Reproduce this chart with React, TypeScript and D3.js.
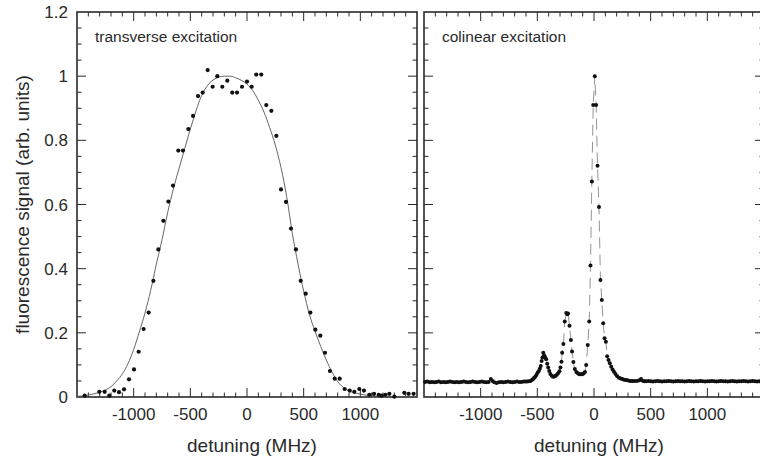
import * as d3 from 'd3';

// transverse excitation: measured points [detuning MHz, signal]
const transverseX = [
  -1432, -1303, -1256, -1215, -1171, -1129, -1085, -1041, -997, -956, -912, -868, -826, -782,
  -738, -694, -653, -606, -565, -518, -476, -432, -391, -347, -303, -262, -218, -174, -130,
  -88, -44, 0, 41, 82, 126, 170, 215, 259, 300, 344, 388, 432, 474, 518, 559, 603, 647, 688,
  732, 774, 818, 862, 906, 947, 991, 1032, 1079, 1121, 1162, 1188, 1221, 1256, 1300, 1388,
  1426, 1470,
];
const transverseY = [
  0.004, 0.016, 0.016, 0.004, 0.02, 0.015, 0.024, 0.055, 0.086, 0.141, 0.212, 0.263, 0.362, 0.46,
  0.549, 0.609, 0.659, 0.768, 0.768, 0.835, 0.876, 0.938, 0.949, 1.019, 0.967, 1.0, 0.967, 0.986, 0.949,
  0.949, 0.967, 0.983, 0.967, 1.005, 1.005, 0.91, 0.892, 0.814, 0.647, 0.608, 0.525, 0.46, 0.362, 0.322,
  0.263, 0.21, 0.191, 0.138, 0.081, 0.057, 0.057, 0.025, 0.02, 0.016, 0.025, 0.02, 0.007, 0.01, 0.007,
  0.004, 0.007, 0.01, 0.001, 0.013, 0.01, 0.01,
];

// fitted profile
const fitX = [
  -1500, -1400, -1300, -1250, -1200, -1150, -1100, -1050, -1000, -950, -900, -850, -800, -750,
  -700, -650, -600, -550, -500, -450, -400, -350, -300, -250, -200, -150, -100, -50, 0, 50, 100,
  150, 200, 250, 300, 350, 400, 450, 500, 550, 600, 650, 700, 750, 800, 850, 900, 1000, 1100,
  1200, 1350, 1500,
];
const fitY = [
  0.002, 0.006, 0.015, 0.022, 0.032, 0.05, 0.072, 0.104, 0.148, 0.203, 0.262, 0.332, 0.414, 0.49,
  0.575, 0.648, 0.712, 0.774, 0.835, 0.892, 0.94, 0.97, 0.988, 0.997, 1.0, 1.0, 0.995, 0.987, 0.975,
  0.955, 0.925, 0.888, 0.84, 0.785, 0.715, 0.625, 0.51, 0.415, 0.33, 0.258, 0.205, 0.158, 0.115,
  0.078, 0.048, 0.03, 0.019, 0.009, 0.004, 0.002, 0.001, 0.001,
];

// colinear excitation: measured points
const colinearX = [
  -1490, -1470, -1450, -1430, -1410, -1390, -1370, -1350, -1330, -1310, -1290, -1270, -1250, -1230,
  -1210, -1190, -1170, -1150, -1130, -1110, -1090, -1070, -1050, -1030, -1010, -990, -970, -950,
  -930, -910, -895, -880, -860, -840, -820, -800, -780, -760, -740, -720, -700, -680, -660, -640,
  -620, -605, -590, -575, -560, -548, -537, -527, -517, -507, -497, -487, -478, -470, -462, -455,
  -448, -440, -431, -422, -413, -404, -395, -385, -373, -361, -349, -338, -326, -315, -305, -296,
  -287, -281, -270, -258, -245, -237, -229, -216, -204, -194, -182, -169, -156, -143, -130, -117,
  -104, -92, -80, -69, -55, -42, -31, -19, -7, 7, 19, 31, 44, 57, 69, 81, 93, 105, 116, 128, 140,
  152, 164, 176, 190, 205, 220, 235, 250, 265, 280, 295, 310, 325, 340, 360, 380, 400, 415, 430,
  445, 460, 480, 500, 520, 540, 560, 580, 600, 620, 640, 660, 680, 700, 720, 740, 760, 780, 800,
  820, 840, 860, 880, 900, 920, 940, 960, 980, 1000, 1020, 1040, 1060, 1080, 1100, 1120, 1140,
  1160, 1180, 1200, 1220, 1240, 1260, 1280, 1300, 1320, 1340, 1360, 1380, 1400, 1420, 1440, 1460,
  1480, 1500,
];
const colinearY = [
  0.047, 0.048, 0.046, 0.047, 0.046, 0.047, 0.048, 0.046, 0.047, 0.046, 0.047, 0.048, 0.047, 0.046,
  0.047, 0.046, 0.047, 0.048, 0.047, 0.046, 0.047, 0.048, 0.047, 0.046, 0.047, 0.048, 0.047, 0.046,
  0.047, 0.056, 0.05, 0.046, 0.044, 0.046, 0.047, 0.046, 0.047, 0.048, 0.047, 0.046, 0.047, 0.048,
  0.047, 0.047, 0.048, 0.048, 0.048, 0.049, 0.05, 0.053, 0.056, 0.06, 0.064, 0.069, 0.076, 0.081,
  0.088, 0.097, 0.112, 0.123, 0.138, 0.13, 0.124, 0.118, 0.104, 0.092, 0.081, 0.072, 0.066, 0.063,
  0.064, 0.066, 0.07, 0.075, 0.08, 0.092, 0.11, 0.138, 0.165, 0.235, 0.262, 0.258, 0.26, 0.222,
  0.178, 0.142, 0.109, 0.087, 0.078, 0.074, 0.071, 0.071, 0.071, 0.073, 0.078, 0.1, 0.162, 0.235,
  0.41, 0.672, 0.91, 1.0, 0.91, 0.721, 0.592, 0.365, 0.302, 0.23, 0.183, 0.172, 0.127, 0.115, 0.105,
  0.094, 0.086, 0.079, 0.072, 0.065, 0.06, 0.058, 0.056, 0.054, 0.053, 0.052, 0.051, 0.05, 0.05,
  0.05, 0.05, 0.052, 0.056, 0.051, 0.049, 0.049, 0.05, 0.049, 0.048, 0.049, 0.05, 0.049, 0.048,
  0.049, 0.049, 0.05, 0.049, 0.048, 0.049, 0.05, 0.049, 0.049, 0.048, 0.049, 0.05, 0.049, 0.048,
  0.049, 0.049, 0.05, 0.049, 0.048, 0.049, 0.049, 0.05, 0.049, 0.048, 0.049, 0.05, 0.049, 0.049,
  0.048, 0.049, 0.05, 0.049, 0.048, 0.049, 0.049, 0.05, 0.049, 0.048, 0.049, 0.05, 0.049, 0.048,
  0.049, 0.049,
];

const xMajor = [-1000, -500, 0, 500, 1000];
const yMajor = [0, 0.2, 0.4, 0.6, 0.8, 1, 1.2];
const yLabels = ['0', '0.2', '0.4', '0.6', '0.8', '1', '1.2'];

const W = 760;
const H = 462;
const top = 12;
const bottom = 397;
const panelW = 340;
const FONT = '"Liberation Sans", Arial, Helvetica, sans-serif';
const INK = '#2a2a2a';

const yScale = d3.scaleLinear().domain([0, 1.2]).range([bottom, top]);

function Panel({ left, label, showY, children }) {
  const x = d3.scaleLinear().domain([-1500, 1500]).range([left, left + panelW]);
  const right = left + panelW;
  const xMinor = d3.range(-1400, 1500, 100);
  const yMinor = d3.range(0.05, 1.2, 0.05);
  return (
    <g>
      {/* minor and major ticks, all pointing inward */}
      {xMinor.map((v) => {
        const major = xMajor.includes(Math.round(v));
        const len = major ? 9 : 4.5;
        return (
          <g key={`xt${v}`} stroke={INK} strokeWidth={1}>
            <line x1={x(v)} x2={x(v)} y1={bottom} y2={bottom - len} />
            <line x1={x(v)} x2={x(v)} y1={top} y2={top + len} />
          </g>
        );
      })}
      {yMinor.map((v) => {
        const major = Math.abs(v / 0.2 - Math.round(v / 0.2)) < 1e-6;
        const len = major ? 9 : 4.5;
        return (
          <g key={`yt${v.toFixed(2)}`} stroke={INK} strokeWidth={1}>
            <line x1={left} x2={left + len} y1={yScale(v)} y2={yScale(v)} />
            <line x1={right} x2={right - len} y1={yScale(v)} y2={yScale(v)} />
          </g>
        );
      })}
      <rect x={left} y={top} width={panelW} height={bottom - top} fill="none" stroke={INK} strokeWidth={1.6} />

      {children(x)}

      {xMajor.map((v) => (
        <text key={`xl${v}`} x={x(v)} y={420} textAnchor="middle" fontSize={17} fontFamily={FONT} fill={INK}>
          {String(v)}
        </text>
      ))}
      <text x={x(0) + 5} y={452} textAnchor="middle" fontSize={19} fontFamily={FONT} fill={INK}>
        detuning (MHz)
      </text>
      <text x={left + 18} y={42} fontSize={15.5} fontFamily={FONT} fill={INK}>
        {label}
      </text>
      {showY &&
        yMajor.map((v, i) => (
          <text
            key={`yl${v}`}
            x={left - 9}
            y={yScale(v)}
            dy="0.36em"
            textAnchor="end"
            fontSize={17}
            fontFamily={FONT}
            fill={INK}
          >
            {yLabels[i]}
          </text>
        ))}
    </g>
  );
}

export default function App() {
  const fit = d3.range(fitX.length).map((i) => [fitX[i], fitY[i]]);
  const trans = d3.range(transverseX.length).map((i) => [transverseX[i], transverseY[i]]);
  const coli = d3.range(colinearX.length).map((i) => [colinearX[i], colinearY[i]]);

  return (
    <div style={{ position: 'absolute', left: 0, top: 0 }}>
      <svg width={W} height={H} viewBox={`0 0 ${W} ${H}`} style={{ display: 'block', background: '#fff' }}>
        <Panel left={77} label="transverse excitation" showY>
          {(x) => {
            const line = d3
              .line()
              .x((d) => x(d[0]))
              .y((d) => yScale(d[1]))
              .curve(d3.curveMonotoneX);
            return (
              <g>
                <path d={line(fit)} fill="none" stroke="#555" strokeWidth={0.9} />
                {trans.map((d, i) => (
                  <circle key={i} cx={x(d[0])} cy={yScale(d[1])} r={2.1} fill="#111" />
                ))}
              </g>
            );
          }}
        </Panel>
        <Panel left={424} label="colinear excitation" showY={false}>
          {(x) => {
            const line = d3
              .line()
              .x((d) => x(d[0]))
              .y((d) => yScale(d[1]));
            return (
              <g>
                <path d={line(coli)} fill="none" stroke="#888" strokeWidth={0.9} strokeDasharray="11,6" />
                {coli.map((d, i) => (
                  <circle key={i} cx={x(d[0])} cy={yScale(d[1])} r={2.0} fill="#111" />
                ))}
              </g>
            );
          }}
        </Panel>
        <text
          transform={`translate(29,${(top + bottom) / 2}) rotate(-90)`}
          textAnchor="middle"
          fontSize={19}
          fontFamily={FONT}
          fill={INK}
        >
          fluorescence signal (arb. units)
        </text>
      </svg>
    </div>
  );
}
